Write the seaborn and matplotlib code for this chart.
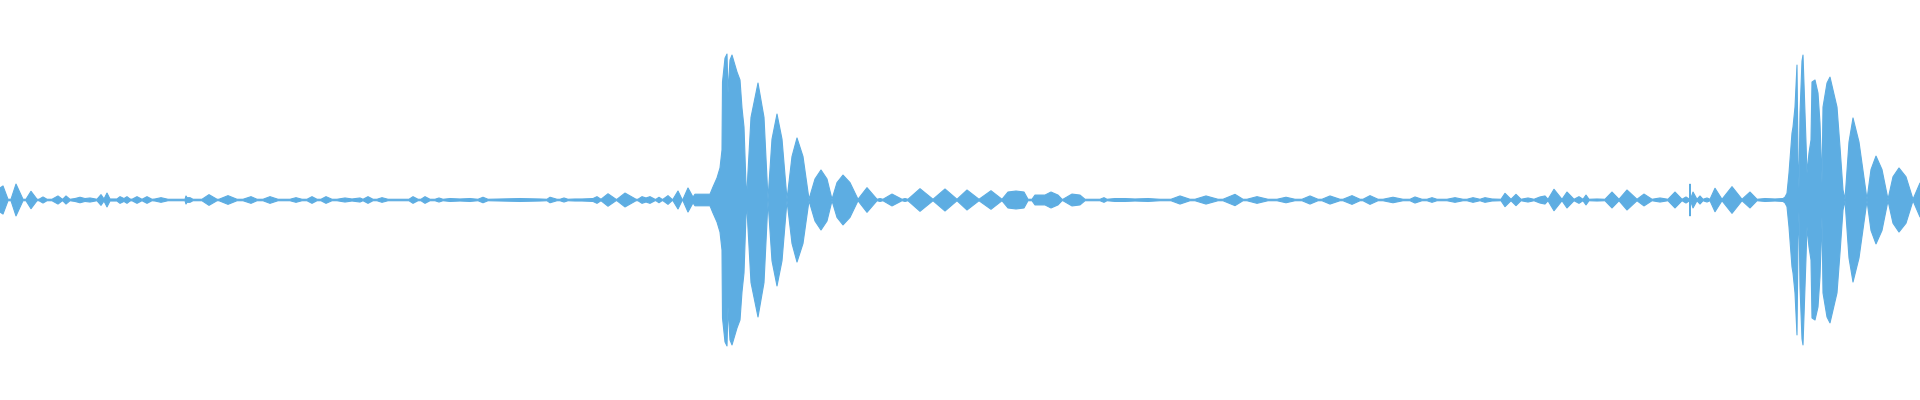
import matplotlib
matplotlib.use("Agg")
import matplotlib.pyplot as plt
import pandas as pd
import seaborn as sns


# ----------------------------------
# Waveform envelope (time index, amplitude in % of full scale)
# ----------------------------------

intro = [
    (0, 8.3), (3, 9.7), (8, 0.5), (11, 0.5), (16, 11.0), (23, 0.5),
    (26, 0.5), (31, 6.0), (37, 0.5), (39, 0.5), (43, 2.1), (47, 0.5),
    (52, 0.5), (58, 2.8), (62, 0.7), (63, 0.7), (66, 2.8), (70, 0.5),
    (75, 1.0), (80, 1.9), (85, 1.0), (90, 1.4), (97, 0.5), (101, 3.7),
    (104, 0.7), (107, 4.8), (110, 0.7), (117, 0.7), (120, 2.3), (124, 1.0),
    (127, 2.3), (130, 0.7), (132, 0.5), (137, 2.3), (142, 0.5), (147, 2.3),
    (152, 0.5), (155, 0.7), (161, 1.6), (168, 0.5), (180, 0.5), (185, 0.5),
    (186, 2.8), (187, 1.6), (190, 1.6), (193, 0.5), (202, 0.5), (209, 3.7),
    (217, 0.5), (219, 0.5), (228, 3.0), (237, 0.5),
]

quiet_1 = [
    (243, 0.5), (251, 2.3), (257, 0.5), (263, 0.5), (270, 2.3), (278, 0.5),
    (290, 0.5), (296, 1.6), (302, 0.5), (307, 0.5), (312, 2.3), (317, 0.5),
    (321, 0.5), (326, 2.3), (332, 0.5), (337, 0.5), (345, 1.4), (352, 0.7),
    (360, 1.4), (363, 0.5), (368, 2.3), (373, 0.5), (377, 0.5), (382, 1.6),
    (388, 0.5), (409, 0.5), (413, 2.3), (418, 0.5), (421, 0.5), (425, 2.3),
    (430, 0.5), (435, 0.5), (439, 1.4), (443, 0.5), (450, 1.0), (460, 0.7),
    (470, 1.0), (478, 0.5), (483, 1.9), (488, 0.5), (500, 0.7), (520, 1.0),
    (540, 0.7), (547, 0.5), (550, 1.9), (557, 0.5), (560, 0.5), (564, 1.4),
    (568, 0.5), (575, 0.7), (582, 0.7), (593, 1.0), (597, 2.3),
]

pre_burst_1 = [
    (601, 0.5), (608, 4.3), (616, 0.5), (617, 0.5), (625, 4.8), (636, 0.5),
    (638, 0.5), (642, 2.3), (646, 1.4), (650, 2.3), (655, 0.5), (656, 0.5),
    (659, 1.9), (662, 0.5), (663, 0.5), (668, 3.0), (672, 0.5), (673, 0.5),
    (678, 6.2), (682, 0.5), (683, 0.5), (688, 8.3), (693, 2.0), (695, 4.0),
    (700, 4.0), (705, 4.0), (710, 4.0), (713, 9.0), (717, 15.2), (720, 22.1),
    (722, 34.5),
]

burst_1 = [
    (722.5, 81.4), (723, 84.8), (725, 97.9), (727, 100.7), (728, 73.8),
    (730, 96.6), (732, 100.0), (737, 88.3), (740, 82.8), (742, 63.4),
    (744, 50.3), (746.5, 0.5),
]

tail_1 = [
    (751, 57.0), (758, 80.7), (764, 57.0), (768, 0.5),
    (772, 42.0), (777, 59.3), (782, 42.0), (787, 0.5),
    (792, 30.0), (797, 42.8), (803, 30.0), (809, 0.5),
    (815, 14.5), (821, 20.7), (827, 14.5), (832, 0.5),
    (837, 12.0), (843, 17.2), (850, 12.0), (858, 0.5),
    (867, 8.5), (877, 0.5), (880, 1.0), (883, 0.5), (892, 4.1), (902, 0.5),
    (905, 1.0), (908, 0.5), (920, 7.8), (933, 0.5), (945, 7.6), (957, 0.5),
    (967, 6.9), (979, 0.5), (991, 6.4), (1002, 0.5),
]

quiet_2 = [
    (1008, 5.5), (1016, 6.2), (1024, 5.5), (1028, 0.5), (1032, 0.5),
    (1035, 3.4), (1040, 3.4), (1045, 3.4), (1051, 5.5), (1058, 3.4),
    (1062, 0.5), (1063, 0.5), (1072, 4.1), (1080, 3.4), (1085, 0.5),
    (1100, 0.5), (1104, 1.6), (1107, 0.5), (1115, 1.0), (1125, 1.0),
    (1135, 0.7), (1148, 1.0), (1160, 0.5), (1171, 0.5), (1180, 2.8),
    (1190, 0.5), (1195, 0.5), (1206, 2.8), (1218, 0.5), (1223, 0.5),
    (1235, 3.9), (1243, 0.5), (1247, 0.5), (1257, 2.3), (1268, 0.5),
    (1277, 0.5), (1286, 1.9), (1295, 0.5), (1302, 0.5), (1310, 2.8),
    (1318, 0.5), (1322, 0.5), (1330, 2.8), (1340, 0.5), (1343, 0.5),
    (1352, 3.0), (1360, 0.5), (1363, 0.5), (1370, 3.0), (1378, 0.5),
    (1383, 0.5), (1393, 1.9), (1403, 0.5), (1410, 0.5), (1415, 2.1),
    (1422, 0.5), (1427, 0.5), (1432, 1.6), (1437, 0.5), (1447, 0.5),
    (1455, 1.6), (1463, 0.5), (1467, 0.5), (1473, 1.6), (1480, 0.5),
]

pre_burst_2 = [
    (1485, 1.6), (1492, 0.7), (1501, 0.5), (1505, 4.6), (1511, 0.5),
    (1516, 3.9), (1521, 0.5), (1528, 1.4), (1534, 0.5), (1540, 2.1),
    (1545, 2.8), (1548, 0.5), (1554, 7.4), (1562, 0.5), (1567, 5.5),
    (1574, 0.5), (1579, 2.3), (1583, 0.5), (1586, 3.4), (1589, 0.5),
    (1597, 0.7), (1605, 0.5), (1612, 5.5), (1619, 0.5), (1627, 6.9),
    (1637, 0.5), (1644, 4.1), (1652, 0.5), (1660, 1.4), (1668, 0.5),
    (1675, 5.5), (1682, 0.5), (1686, 2.1), (1689.5, 0.5), (1690, 11.0),
    (1690.5, 0.5), (1693, 5.5), (1697, 0.5), (1700, 2.8), (1703, 0.5),
    (1707, 1.4), (1710, 0.5), (1715, 8.1), (1722, 0.5), (1732, 9.2),
    (1742, 0.5), (1750, 5.5), (1757, 0.5), (1765, 1.0), (1775, 0.7),
    (1783, 1.0),
]

burst_2 = [
    (1785, 2.0), (1787, 4.6), (1789, 18.6), (1792, 46.2), (1793, 50.3),
    (1795, 64.1), (1797, 93.1), (1798, 27.6), (1799, 8.0), (1800, 60.0),
    (1802, 95.9), (1803, 100.0), (1804, 80.7), (1806, 40.0), (1807, 18.6),
    (1809, 32.4), (1811, 41.4), (1812, 81.4), (1815, 82.8), (1818, 73.8),
    (1820, 53.1), (1822, 11.7), (1823, 64.1), (1827, 80.7), (1830, 84.8),
    (1833, 75.9), (1837, 64.1), (1840, 36.6), (1843, 6.9), (1845, 0.5),
]

tail_2 = [
    (1849, 40.0), (1853, 56.6), (1859, 40.0), (1867, 0.5),
    (1871, 21.0), (1876, 30.3), (1882, 21.0), (1888, 0.5),
    (1893, 16.0), (1899, 22.1), (1906, 16.0), (1913, 0.5),
    (1920, 11.7),
]

wave_color = "#5DADE2"


# ----------------------------------
# Build table
# ----------------------------------

segments = [
    intro, quiet_1, pre_burst_1, burst_1, tail_1,
    quiet_2, pre_burst_2, burst_2, tail_2,
]

df = pd.DataFrame(
    [p for seg in segments for p in seg],
    columns=["time", "amp"]
)
df["neg"] = -df["amp"]


# ----------------------------------
# Plot
# ----------------------------------

sns.set_style("white")

fig = plt.figure(figsize=(19.2, 4), dpi=100)
ax = fig.add_axes([0, 0, 1, 1])

ax.fill_between(
    df["time"],
    df["neg"],
    df["amp"],
    color=wave_color,
    linewidth=0
)

sns.lineplot(data=df, x="time", y="amp", color=wave_color,
             linewidth=0.8, estimator=None, ax=ax)
sns.lineplot(data=df, x="time", y="neg", color=wave_color,
             linewidth=0.8, estimator=None, ax=ax)

ax.set_xlim(0, 1920)
ax.set_ylim(-138, 138)
ax.axis("off")

fig.savefig("out.png", dpi=100, facecolor="white")
